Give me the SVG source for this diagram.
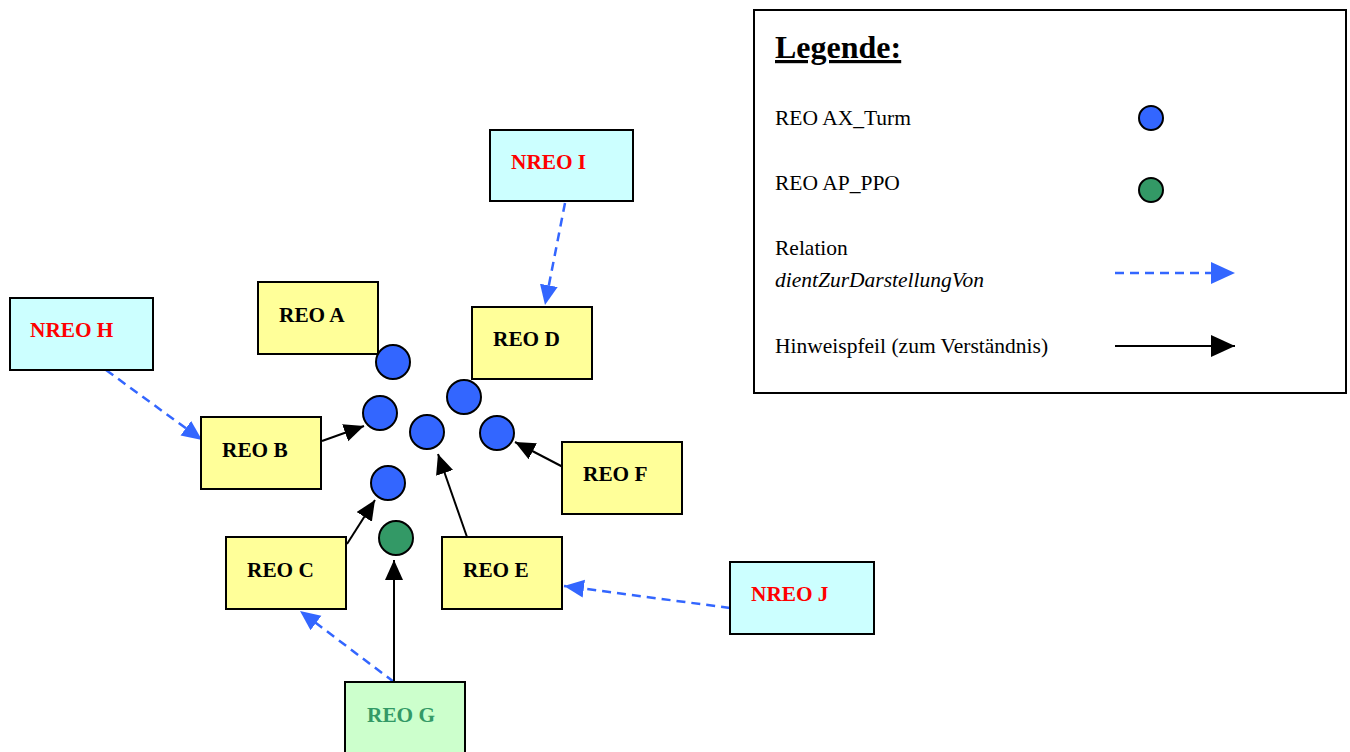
<svg xmlns="http://www.w3.org/2000/svg" width="1350" height="752" viewBox="0 0 1350 752">
<defs>
<marker id="hb" markerUnits="userSpaceOnUse" markerWidth="22" markerHeight="20" refX="20" refY="9" orient="auto"><path d="M0,0 L20,9 L0,18 Z" fill="#3366FF"/></marker>
<marker id="hk" markerUnits="userSpaceOnUse" markerWidth="22" markerHeight="20" refX="20" refY="9" orient="auto"><path d="M0,0 L20,9 L0,18 Z" fill="#000"/></marker>
<marker id="lb" markerUnits="userSpaceOnUse" markerWidth="26" markerHeight="24" refX="24" refY="11" orient="auto"><path d="M0,0 L24,11 L0,22 Z" fill="#3366FF"/></marker>
<marker id="lk" markerUnits="userSpaceOnUse" markerWidth="26" markerHeight="24" refX="24" refY="11" orient="auto"><path d="M0,0 L24,11 L0,22 Z" fill="#000"/></marker>
</defs>
<style>
.box{stroke:#000;stroke-width:2}
.reo{fill:#FFFF99}
.nreo{fill:#CCFFFF}
.g{fill:#CCFFCC}
.t{font-family:"Liberation Serif","Times New Roman",serif;font-size:21.3px;font-weight:bold;fill:#000}
.red{fill:#FF0000}
.grn{fill:#339966}
.blue{fill:#3366FF;stroke:#000;stroke-width:2}
.green{fill:#339966;stroke:#000;stroke-width:2}
.dash{stroke:#3366FF;stroke-width:2.5;stroke-dasharray:9,6;fill:none}
.solid{stroke:#000;stroke-width:2;fill:none}
.lt{font-family:"Liberation Serif","Times New Roman",serif;font-size:21.5px;fill:#000}
</style>
<rect width="1350" height="752" fill="#fff"/>

<g id="legend">
<rect x="754" y="10" width="592" height="383" fill="#fff" stroke="#000" stroke-width="2"/>
<text x="775" y="58" font-family="Liberation Serif,Times New Roman,serif" font-size="32" font-weight="bold" text-decoration="underline">Legende:</text>
<text class="lt" x="775" y="125">REO AX_Turm</text>
<circle class="blue" cx="1151" cy="118" r="12"/>
<text class="lt" x="775" y="190">REO AP_PPO</text>
<circle class="green" cx="1151" cy="190" r="12"/>
<text class="lt" x="775" y="255">Relation</text>
<text class="lt" x="775" y="287" font-style="italic">dientZurDarstellungVon</text>
<line class="dash" x1="1115" y1="273" x2="1235" y2="273" marker-end="url(#lb)"/>
<text class="lt" x="775" y="353">Hinweispfeil (zum Verständnis)</text>
<line class="solid" x1="1115" y1="346" x2="1235" y2="346" stroke-width="2.5" marker-end="url(#lk)"/>
</g>

<g id="connectors">
<line class="dash" x1="106" y1="370" x2="202" y2="440" marker-end="url(#hb)"/>
<line class="dash" x1="565" y1="203" x2="545" y2="305" marker-end="url(#hb)"/>
<line class="dash" x1="730" y1="608" x2="564" y2="586" marker-end="url(#hb)"/>
<line class="dash" x1="394" y1="682" x2="300" y2="611" marker-end="url(#hb)"/>
<line class="solid" x1="322" y1="441" x2="364" y2="426" marker-end="url(#hk)"/>
<line class="solid" x1="563" y1="467" x2="515" y2="442" marker-end="url(#hk)"/>
<line class="solid" x1="467" y1="537" x2="438" y2="454" marker-end="url(#hk)"/>
<line class="solid" x1="347" y1="544" x2="375" y2="500" marker-end="url(#hk)"/>
<line class="solid" x1="394" y1="682" x2="394" y2="560" marker-end="url(#hk)"/>
</g>

<g id="nreo-i"><rect class="box nreo" x="490" y="130" width="143" height="71"/><text class="t red" x="511" y="169">NREO I</text></g>
<g id="nreo-h"><rect class="box nreo" x="10" y="298" width="143" height="72"/><text class="t red" x="30" y="337">NREO H</text></g>
<g id="nreo-j"><rect class="box nreo" x="730" y="562" width="144" height="72"/><text class="t red" x="751" y="601">NREO J</text></g>
<g id="reo-a"><rect class="box reo" x="258" y="282" width="120" height="72"/><text class="t" x="279" y="322">REO A</text></g>
<g id="reo-d"><rect class="box reo" x="472" y="307" width="120" height="72"/><text class="t" x="493" y="346">REO D</text></g>
<g id="reo-b"><rect class="box reo" x="201" y="417" width="120" height="72"/><text class="t" x="222" y="457">REO B</text></g>
<g id="reo-f"><rect class="box reo" x="562" y="442" width="120" height="72"/><text class="t" x="583" y="481">REO F</text></g>
<g id="reo-c"><rect class="box reo" x="226" y="537" width="120" height="72"/><text class="t" x="247" y="577">REO C</text></g>
<g id="reo-e"><rect class="box reo" x="442" y="537" width="120" height="72"/><text class="t" x="463" y="577">REO E</text></g>
<g id="reo-g"><rect class="box g" x="345" y="682" width="120" height="74"/><text class="t grn" x="367" y="722">REO G</text></g>

<g id="points">
<circle class="blue" cx="393" cy="362" r="17"/>
<circle class="blue" cx="380" cy="413" r="17"/>
<circle class="blue" cx="427" cy="432" r="17"/>
<circle class="blue" cx="464" cy="397" r="17"/>
<circle class="blue" cx="497" cy="433" r="17"/>
<circle class="blue" cx="388" cy="483" r="17"/>
<circle class="green" cx="396" cy="538" r="17"/>
</g>
</svg>
